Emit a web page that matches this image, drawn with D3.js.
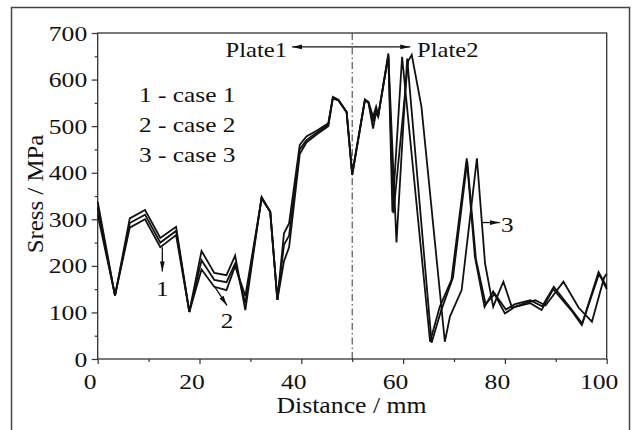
<!DOCTYPE html>
<html><head><meta charset="utf-8">
<script src="https://cdn.jsdelivr.net/npm/d3@7"></script>
<style>html,body{margin:0;padding:0;background:#fff;}svg{display:block;}</style>
</head><body>
<svg id="chart" width="632" height="430"></svg>
<script>
// ---- data ----
const case1X = [0,3.4,6.3,9.3,12.3,15.4,18,20.4,22.9,25.3,27,29,32.2,33.9,35.3,36.6,37.6,39.7,41,43,45.3,46.2,47.3,48.9,50,52.5,53.2,54.1,54.7,55.1,57.1,57.9,59.8,65.3,67.2,69.5,72.5,74.1,76,77.7,80,82,85,87.2,89.5,93,95.1,98.4,100];
const case1Y = [310,136,282,300,240,266,101,192,155,148,200,135,345,316,127,210,240,440,465,482,500,560,555,530,395,555,550,495,530,520,656,316,649,37,112,170,431,220,112,145,98,112,120,105,150,105,73,187,155];
const case2X = [0,3.4,6.3,9.3,12.3,15.4,18,20.4,22.9,25.3,27,29,32.2,33.9,35.3,36.6,37.6,39.7,41,43,45.3,46.2,47.3,48.9,50,52.5,53.2,54.1,54.7,55.1,57.1,58.7,60.8,65.6,67.5,69.8,72.6,74.3,76.2,78,80.2,82,85,87.3,89.6,93,95.2,98.5,100];
const case2Y = [325,136,292,310,250,275,101,212,170,165,205,120,345,316,127,245,265,450,470,486,503,560,555,530,395,557,550,510,535,520,652,250,645,35,105,175,425,215,118,140,106,118,126,113,155,108,76,183,150];
const case3X = [0,3.4,6.3,9.3,12.3,15.4,18,20.4,22.9,25.3,27,29,32.2,33.9,35.3,36.6,37.6,39.7,41,43,45.3,46.2,47.3,48.9,50,52.5,53.2,54.1,54.7,55.1,57.1,58.1,61.0,61.7,63.6,68.2,69.2,71.5,74.5,76.1,77.7,78.7,79.7,81.4,84,86,88,91.5,94.5,97.1,99.5,100];
const case3Y = [338,136,302,320,260,284,101,232,185,180,222,105,348,316,127,270,291,460,478,490,506,563,557,531,399,557,552,520,542,524,650,313,640,653,542,37,91,148,431,205,112,140,166,110,120,126,115,166,110,80,175,183];
const seriesNames = ["1 - case 1", "2 - case 2", "3 - case 3"];
const xTicks = [0,20,40,60,80,100];
const xMinor = [10,30,50,70,90];
const yTicks = [0,100,200,300,400,500,600,700];
const yMinor = [50,150,250,350,450,550,650];
const xTitle = "Distance / mm";
const yTitle = "Sress / MPa";
const plateLabels = ["Plate1", "Plate2"];
const boundaryX = 50;

// ---- layout ----
const svg = d3.select("#chart");
const L = 97.7, R = 606.7, T = 33, B = 359;
const x = d3.scaleLinear().domain([0,100]).range([L,R]);
const y = d3.scaleLinear().domain([0,700]).range([B,T]);
const FONT = "'Liberation Serif', 'Times New Roman', serif";

// outer frame (bottom edge lies outside the picture)
svg.append("rect").attr("x",11.5).attr("y",7.5).attr("width",618).attr("height",440)
  .attr("fill","none").attr("stroke","#444").attr("stroke-width",1.5);

// arrow marker
const defs = svg.append("defs");
defs.append("marker").attr("id","ah").attr("viewBox","0 0 10 6").attr("refX",10).attr("refY",3)
  .attr("markerWidth",10).attr("markerHeight",6).attr("markerUnits","userSpaceOnUse").attr("orient","auto")
  .append("path").attr("d","M0,0.6 L10,3 L0,5.4 Z").attr("fill","#111");

function txt(str, px, py, size, sx, anchor, rot) {
  return svg.append("text")
    .attr("transform", `translate(${px},${py})` + (rot ? ` rotate(${rot})` : "") + ` scale(${sx},1)`)
    .attr("font-family", FONT).attr("font-size", size).attr("fill","#111")
    .attr("text-anchor", anchor || "start").text(str);
}

// axes
const gx = svg.append("g").attr("transform",`translate(0,${B})`)
  .call(d3.axisBottom(x).tickValues(xTicks).tickSize(5).tickSizeOuter(0).tickFormat(d3.format("d")));
const gxm = svg.append("g").attr("transform",`translate(0,${B})`)
  .call(d3.axisBottom(x).tickValues(xMinor).tickSize(3).tickSizeOuter(0).tickFormat(""));
const gy = svg.append("g").attr("transform",`translate(${L},0)`)
  .call(d3.axisLeft(y).tickValues(yTicks).tickSize(6).tickSizeOuter(0).tickFormat(d3.format("d")));
const gym = svg.append("g").attr("transform",`translate(${L},0)`)
  .call(d3.axisLeft(y).tickValues(yMinor).tickSize(3).tickSizeOuter(0).tickFormat(""));
[gx,gxm,gy,gym].forEach(g => {
  g.select(".domain").remove();
  g.selectAll(".tick line").attr("stroke","#333").attr("stroke-width",1.2);
});
gx.selectAll(".tick text").attr("font-family",FONT).attr("font-size",21).attr("fill","#111")
  .attr("dy",null).attr("y",30).attr("x",-8/1.22).attr("transform","scale(1.22,1)");
gy.selectAll(".tick text").attr("font-family",FONT).attr("font-size",21).attr("fill","#111")
  .attr("dy",null).attr("y",7).attr("x",-10.5/1.22).attr("transform","scale(1.22,1)");

// plot frame
svg.append("rect").attr("x",L).attr("y",T).attr("width",R-L).attr("height",B-T)
  .attr("fill","none").attr("stroke","#333").attr("stroke-width",1.3);

// boundary dash-dot line
svg.append("line").attr("x1",x(boundaryX)).attr("x2",x(boundaryX)).attr("y1",T).attr("y2",B)
  .attr("stroke","#333").attr("stroke-width",1).attr("stroke-dasharray","7,3,1.5,3");

// series lines
const line = d3.line().x(d => x(d[0])).y(d => y(d[1]));
[[case1X,case1Y],[case2X,case2Y],[case3X,case3Y]].forEach(([xs,ys]) => {
  svg.append("path").datum(xs.map((v,i)=>[v,ys[i]])).attr("d",line)
    .attr("fill","none").attr("stroke","#111").attr("stroke-width",1.8).attr("stroke-linejoin","miter");
});

// plate arrows
const ay = y(670);
svg.append("line").attr("x1",x(50)).attr("x2",x(38.2)).attr("y1",ay).attr("y2",ay)
  .attr("stroke","#111").attr("stroke-width",1.3).attr("marker-end","url(#ah)");
svg.append("line").attr("x1",x(50)).attr("x2",x(61.4)).attr("y1",ay).attr("y2",ay)
  .attr("stroke","#111").attr("stroke-width",1.3).attr("marker-end","url(#ah)");
txt(plateLabels[0], 287, 57, 22, 1.12, "end");
txt(plateLabels[1], 417, 57, 22, 1.12, "start");

// legend text
seriesNames.forEach((s,i) => txt(s, 139, 101.5 + i*30, 21.5, 1.18, "start"));

// case annotations
svg.append("line").attr("x1",x(12.7)).attr("x2",x(12.7)).attr("y1",y(240)).attr("y2",y(188))
  .attr("stroke","#111").attr("stroke-width",1.3).attr("marker-end","url(#ah)");
txt("1", x(12.7), 296, 21, 1.2, "middle");
svg.append("line").attr("x1",x(23.0)).attr("x2",x(25.4)).attr("y1",y(155)).attr("y2",y(115))
  .attr("stroke","#111").attr("stroke-width",1.3).attr("marker-end","url(#ah)");
txt("2", 227, 328, 21, 1.2, "middle");
svg.append("line").attr("x1",x(75.6)).attr("x2",x(79.0)).attr("y1",y(293)).attr("y2",y(293))
  .attr("stroke","#111").attr("stroke-width",1.3).attr("marker-end","url(#ah)");
txt("3", 501, 232, 21, 1.2, "start");

// axis titles
txt(xTitle, 351.5, 413, 23, 1.12, "middle");
txt(yTitle, 43, 194, 23, 1.08, "middle", -90);
</script>
</body></html>
